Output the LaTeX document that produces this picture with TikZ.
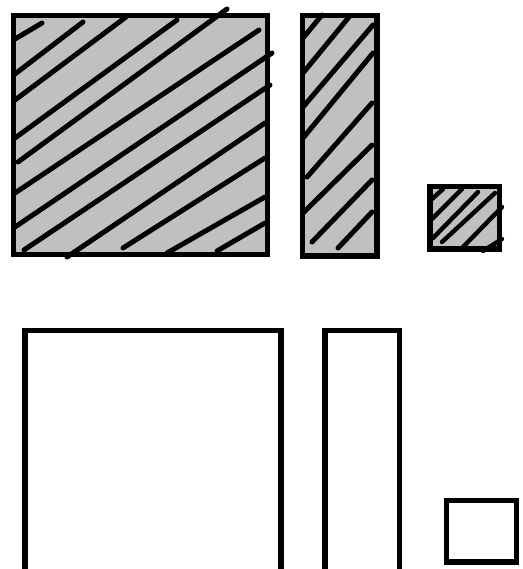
\documentclass[tikz,border=0pt]{standalone}
\begin{document}
\begin{tikzpicture}[x=1pt,y=-1pt,
  box/.style={draw=black,line width=5.4pt,line join=miter},
  hatchbox/.style={box,fill={rgb,255:red,192;green,192;blue,192}},
  hatch/.style={draw=black,line width=5pt,line cap=round}]
\useasboundingbox (0,0) rectangle (522,569);
% top row: hatched
\path[hatchbox] (13.5,15.5) rectangle (267.5,254.5);
\path[hatchbox] (302.5,15.5) rectangle (377,256);
\path[hatchbox] (430,186.5) rectangle (499.5,249);
% big box hatch
\foreach \a/\b/\c/\d in {15/39/42/23, 15/74/83/22, 15/100/126/17, 15/138/177/20,
  18/162/227/9, 15/193/259/30, 15/227/272/53, 24/250/270/85, 67/257/265/123,
  123/248/265/158, 167/253/265/197, 217/251/265/223}
  \draw[hatch] (\a,\b) -- (\c,\d);
% middle hatch
\foreach \a/\b/\c/\d in {303/38/322/15, 303/73/349/17, 303/107/373/25, 303/138/373/53,
  307/177/372/103, 303/213/372/145, 312/242/372/180, 338/248/372/212}
  \draw[hatch] (\a,\b) -- (\c,\d);
% small hatch
\foreach \a/\b/\c/\d in {431/200/443/189, 431/220/462/189, 433/238/478/192,
  442/242/495/193, 463/247/502/207, 483/251/502/239}
  \draw[hatch,line width=4.4pt] (\a,\b) -- (\c,\d);
% borders again on top
\draw[box] (13.5,15.5) rectangle (267.5,254.5);
\draw[box] (302.5,15.5) rectangle (377,256);
\draw[box] (430,186.5) rectangle (499.5,249);
% bottom row: open boxes
\draw[box] (24.8,575) -- (24.8,330.5) -- (281,330.5) -- (281,575);
\draw[box] (324.8,575) -- (324.8,330.5) -- (399.5,330.5) -- (399.5,575);
\draw[box] (446.7,500.5) rectangle (516.7,562);
\end{tikzpicture}
\end{document}
